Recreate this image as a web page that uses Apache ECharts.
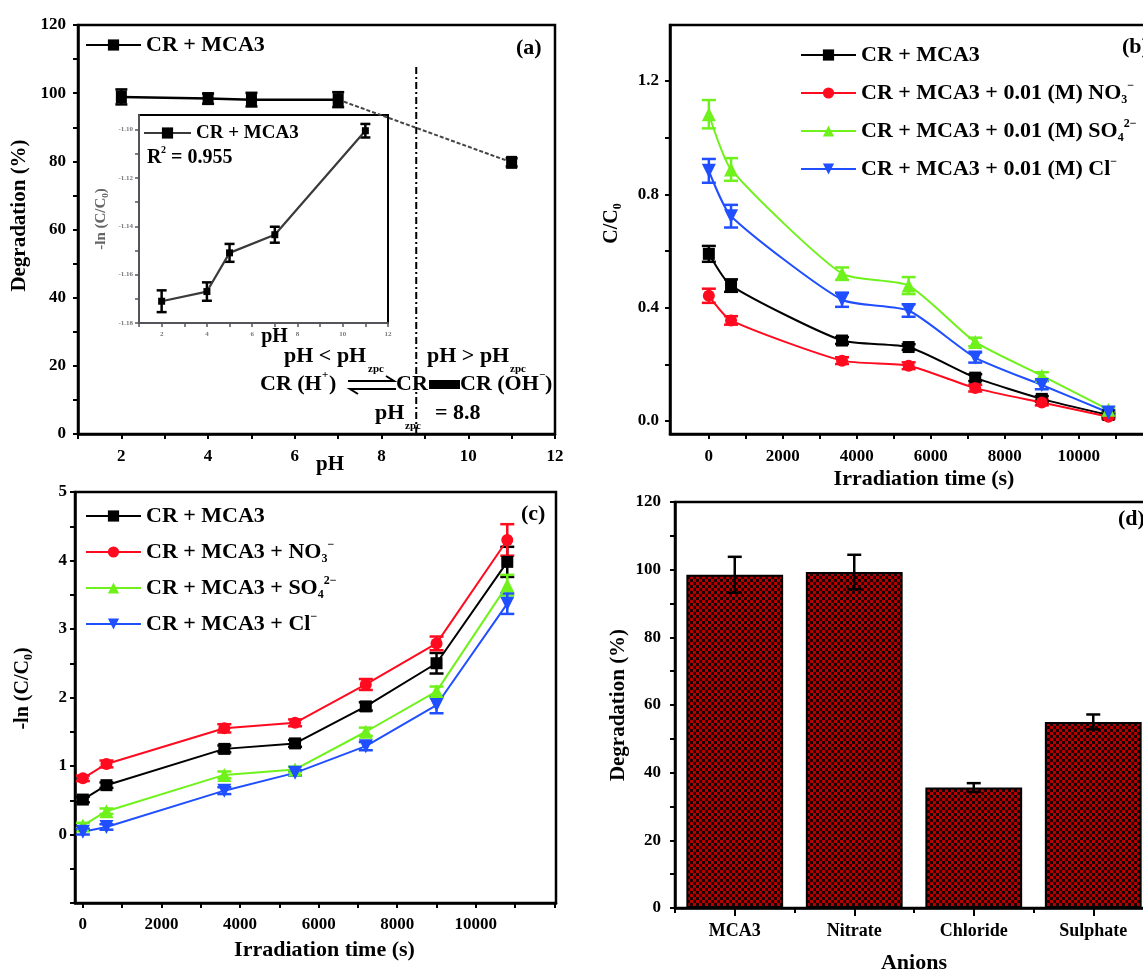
<!DOCTYPE html>
<html>
<head>
<meta charset="utf-8">
<script src="https://cdn.jsdelivr.net/npm/echarts@6/dist/echarts.min.js"></script>
<style>html,body{margin:0;padding:0;background:#fff;}#c{width:1143px;height:970px;}</style>
</head>
<body>
<div id="c"></div>
<script>
// ---------------- DATA ----------------
// (a) effect of pH
const pHValues = [2, 4, 5, 7, 11];
const degradationPH = [98.9, 98.4, 98.1, 98.1, 79.7];
const degradationPHErr = [2.2, 1.5, 2.0, 2.2, 1.2];
const pHzpc = 8.8;
const pHzpcLineTop = 108;
// (a) inset
const insetLn = [-1.171, -1.167, -1.151, -1.1435, -1.1005];
const insetLnErr = [0.0045, 0.0038, 0.0037, 0.0033, 0.0028];
// (b) C/C0 vs time
const times = [0, 600, 3600, 5400, 7200, 9000, 10800];
const ccBlack = [0.59, 0.478, 0.284, 0.261, 0.153, 0.078, 0.021];
const ccRed   = [0.442, 0.355, 0.213, 0.195, 0.116, 0.065, 0.015];
const ccGreen = [1.083, 0.888, 0.52, 0.478, 0.279, 0.16, 0.04];
const ccBlue  = [0.883, 0.723, 0.428, 0.39, 0.224, 0.127, 0.03];
const ccBlackErr = [0.028, 0.022, 0.012, 0.01, 0.012, 0.01, 0.008];
const ccRedErr   = [0.025, 0.015, 0.012, 0.012, 0.012, 0.01, 0.008];
const ccGreenErr = [0.05, 0.04, 0.022, 0.03, 0.015, 0.012, 0.008];
const ccBlueErr  = [0.042, 0.04, 0.025, 0.022, 0.018, 0.015, 0.008];
// (c) -ln(C/C0) vs time
const lnBlack = [0.51, 0.72, 1.25, 1.33, 1.87, 2.50, 3.98];
const lnRed   = [0.82, 1.03, 1.55, 1.63, 2.19, 2.79, 4.30];
const lnGreen = [0.13, 0.34, 0.87, 0.95, 1.50, 2.09, 3.64];
const lnBlue  = [0.04, 0.11, 0.64, 0.90, 1.29, 1.89, 3.37];
const lnBlackErr = [0.04, 0.04, 0.05, 0.05, 0.06, 0.15, 0.22];
const lnRedErr   = [0.04, 0.05, 0.06, 0.05, 0.08, 0.10, 0.23];
const lnGreenErr = [0.04, 0.04, 0.05, 0.04, 0.06, 0.07, 0.15];
const lnBlueErr  = [0.04, 0.04, 0.05, 0.04, 0.06, 0.12, 0.15];
// (d) anions
const anions = ['MCA3', 'Nitrate', 'Chloride', 'Sulphate'];
const anionDeg = [98.5, 99.3, 35.6, 55.0];
const anionErr = [5.3, 5.1, 1.3, 2.2];
// tick labels
const pHTickLabels = [2, 4, 6, 8, 10, 12];
const insetYTickLabels = [-1.18, -1.16, -1.14, -1.12, -1.10];
const insetYTicks = [-1.18, -1.17, -1.16, -1.15, -1.14, -1.13, -1.12, -1.11, -1.10];
const timeTickLabels = [0, 2000, 4000, 6000, 8000, 10000];
const timeTicksB = [0, 1000, 2000, 3000, 4000, 5000, 6000, 7000, 8000, 9000, 10000, 11000];
const timeTicksC = [0, 1000, 2000, 3000, 4000, 5000, 6000, 7000, 8000, 9000, 10000, 11000, 12000];
const ccTickLabels = [0, 0.4, 0.8, 1.2];
const ccTicks = [0, 0.2, 0.4, 0.6, 0.8, 1.0, 1.2, 1.4];
const lnTickLabels = [0, 1, 2, 3, 4, 5];
const lnTicks = [-1, -0.5, 0, 0.5, 1, 1.5, 2, 2.5, 3, 3.5, 4, 4.5, 5];

// ---------------- STYLE ----------------
const F = '"Liberation Serif","Times New Roman",serif';
const BLACK = '#000000', RED = '#ff0a1e', GREEN = '#6ff21c', BLUE = '#1f4fff';
const SMOOTH = 0.2;

const chart = echarts.init(document.getElementById('c'));

function axisBase(extra) {
  const base = {
    nameMoveOverlap: false,
    axisLine: { show: true, onZero: false, lineStyle: { color: '#000', width: 2.5 } },
    axisTick: { show: true, inside: false, length: 5, lineStyle: { color: '#000', width: 2 } },
    splitLine: { show: false },
    axisLabel: { color: '#000', fontFamily: F, fontWeight: 'bold', fontSize: 17, formatter: v => String(v) },
    nameTextStyle: { color: '#000', fontFamily: F, fontWeight: 'bold', fontSize: 21 }
  };
  for (const k in extra) {
    if (typeof extra[k] === 'object' && !Array.isArray(extra[k]) && base[k]) {
      base[k] = Object.assign({}, base[k], extra[k]);
    } else base[k] = extra[k];
  }
  return base;
}

function errSeries(xi, yi, data, color, cap, lw, z) {
  return {
    type: 'custom', xAxisIndex: xi, yAxisIndex: yi, z: z || 1, silent: true,
    data: data,
    renderItem: function (params, api) {
      const x = api.value(0), lo = api.value(1), hi = api.value(2);
      const p1 = api.coord([x, lo]), p2 = api.coord([x, hi]);
      const st = { stroke: color, lineWidth: lw || 2 };
      return { type: 'group', children: [
        { type: 'line', shape: { x1: p1[0], y1: p1[1], x2: p2[0], y2: p2[1] }, style: st },
        { type: 'line', shape: { x1: p1[0] - cap, y1: p1[1], x2: p1[0] + cap, y2: p1[1] }, style: st },
        { type: 'line', shape: { x1: p2[0] - cap, y1: p2[1], x2: p2[0] + cap, y2: p2[1] }, style: st }
      ] };
    }
  };
}
function errData(xs, vs, es) { return xs.map((x, i) => [x, vs[i] - es[i], vs[i] + es[i]]); }
function pts(xs, vs) { return xs.map((x, i) => [x, vs[i]]); }

// bar pattern (checkered dark red)
const pc = document.createElement('canvas');
pc.width = 6; pc.height = 6;
const pctx = pc.getContext('2d');
pctx.fillStyle = '#1e0000'; pctx.fillRect(0, 0, 6, 6);
pctx.fillStyle = '#b40000'; pctx.fillRect(0, 0, 3, 3); pctx.fillRect(3, 3, 3, 3);

const legendLabels = {
  a_main: 'CR + MCA3',
  a_inset: 'CR + MCA3',
  b_k: 'CR + MCA3',
  b_r: 'CR + MCA3 + 0.01 (M) NO{sub|3}{sup|−}',
  b_g: 'CR + MCA3 + 0.01 (M) SO{sub|4}{sup|2−}',
  b_b: 'CR + MCA3 + 0.01 (M) Cl{sup|−}',
  c_k: 'CR + MCA3',
  c_r: 'CR + MCA3 + NO{sub|3}{sup|−}',
  c_g: 'CR + MCA3 + SO{sub|4}{sup|2−}',
  c_b: 'CR + MCA3 + Cl{sup|−}'
};
function legendText(size) {
  return {
    color: '#000', fontFamily: F, fontWeight: 'bold', fontSize: size, lineHeight: 26,
    rich: {
      sub: { fontFamily: F, fontWeight: 'bold', fontSize: Math.round(size * 0.55), verticalAlign: 'bottom', lineHeight: 12 },
      sup: { fontFamily: F, fontWeight: 'bold', fontSize: Math.round(size * 0.55), verticalAlign: 'top', lineHeight: 12 }
    }
  };
}
function mkLegend(names, left, top, size, gap, w) {
  return {
    data: names, left: left, top: top, orient: 'vertical', itemGap: gap, padding: 0,
    itemWidth: w || 55, itemHeight: 14, selectedMode: false,
    formatter: n => legendLabels[n], textStyle: legendText(size)
  };
}

const tf = (s) => 'bold ' + s + 'px ' + F;
function txt(x, y, text, size, extra) {
  return Object.assign({ type: 'text', x: x, y: y, z: 50,
    style: { text: text, font: tf(size), fill: '#000', verticalAlign: 'middle' } }, extra || {});
}

const option = {
  backgroundColor: '#fff',
  animation: false,
  grid: [
    { left: 78, top: 25, width: 477, height: 409, show: true, borderColor: '#000', borderWidth: 2.5, outerBoundsMode: 'none', containLabel: false },
    { left: 139, top: 115, width: 249, height: 208, show: true, borderColor: '#000', borderWidth: 2, backgroundColor: 'transparent', outerBoundsMode: 'none', containLabel: false },
    { left: 670, top: 25, width: 478, height: 409, show: true, borderColor: '#000', borderWidth: 2.5, outerBoundsMode: 'none', containLabel: false },
    { left: 75, top: 492, width: 481, height: 411, show: true, borderColor: '#000', borderWidth: 2.5, outerBoundsMode: 'none', containLabel: false },
    { left: 675, top: 502, width: 478, height: 406, show: true, borderColor: '#000', borderWidth: 2.5, outerBoundsMode: 'none', containLabel: false }
  ],
  xAxis: [
    axisBase({ gridIndex: 0, type: 'value', min: 1, max: 12, interval: 1,
      axisLabel: { customValues: pHTickLabels, margin: 14 },
      name: 'pH', nameLocation: 'middle', nameGap: 20,
      nameTextStyle: { padding: [0, 0, 0, 27], fontSize: 21 } }),
    axisBase({ gridIndex: 1, type: 'value', min: 1, max: 12, interval: 1,
      axisLine: { lineStyle: { width: 2 } },
      axisTick: { length: 4, lineStyle: { width: 1.5 } },
      axisLabel: { customValues: pHTickLabels, fontSize: 7, color: '#777', margin: 8 },
      name: 'pH', nameLocation: 'middle', nameGap: 4,
      nameTextStyle: { fontSize: 20, padding: [0, 0, 0, 22] } }),
    axisBase({ gridIndex: 2, type: 'value', min: -1050, max: 11870,
      axisLabel: { customValues: timeTickLabels, margin: 14 },
      axisTick: { customValues: timeTicksB },
      name: 'Irradiation time (s)', nameLocation: 'middle', nameGap: 34,
      nameTextStyle: { fontSize: 22, padding: [0, 0, 0, 30] } }),
    axisBase({ gridIndex: 3, type: 'value', min: -200, max: 12040,
      axisLabel: { customValues: timeTickLabels, margin: 13 },
      axisTick: { customValues: timeTicksC },
      name: 'Irradiation time (s)', nameLocation: 'middle', nameGap: 36,
      nameTextStyle: { fontSize: 22, padding: [0, 0, 0, 18] } }),
    axisBase({ gridIndex: 4, type: 'category', data: anions, boundaryGap: true,
      axisTick: { alignWithLabel: true, length: 8 },
      axisLabel: { fontSize: 18, margin: 14 },
      name: 'Anions', nameLocation: 'middle', nameGap: 44,
      nameTextStyle: { fontSize: 22 } }),
    axisBase({ gridIndex: 4, type: 'category', data: anions, boundaryGap: true, position: 'bottom',
      axisLine: { show: false }, axisLabel: { show: false },
      axisTick: { alignWithLabel: false, length: 5 } })
  ],
  yAxis: [
    axisBase({ gridIndex: 0, type: 'value', min: 0, max: 120, interval: 20,
      minorTick: { show: true, splitNumber: 2, length: 5, lineStyle: { color: '#000', width: 2 } },
      axisLabel: { margin: 12 },
      name: 'Degradation (%)', nameLocation: 'middle', nameGap: 48, nameRotate: 90,
      nameTextStyle: { fontSize: 21, padding: [0, 0, 0, 28] } }),
    axisBase({ gridIndex: 1, type: 'value', min: -1.18, max: -1.094,
      axisLine: { lineStyle: { width: 2 } },
      axisTick: { customValues: insetYTicks, length: 4, lineStyle: { width: 1.5 } },
      axisLabel: { customValues: insetYTickLabels, fontSize: 7, color: '#777', margin: 6, formatter: v => v.toFixed(2) },
      name: '-ln (C/C\u2080)', nameLocation: 'middle', nameGap: 30, nameRotate: 90,
      nameTextStyle: { fontSize: 15, color: '#666', padding: [0, 0, 0, 0] } }),
    axisBase({ gridIndex: 2, type: 'value', min: -0.046, max: 1.398,
      axisLabel: { customValues: ccTickLabels, formatter: v => v.toFixed(1), margin: 11 },
      axisTick: { customValues: ccTicks },
      name: 'C/C\u2080', nameLocation: 'middle', nameGap: 48, nameRotate: 90,
      nameTextStyle: { fontSize: 20, padding: [0, 0, 0, 12] } }),
    axisBase({ gridIndex: 3, type: 'value', min: -1, max: 5,
      axisLabel: { customValues: lnTickLabels, margin: 8 },
      axisTick: { customValues: lnTicks },
      name: '-ln (C/C\u2080)', nameLocation: 'middle', nameGap: 42, nameRotate: 90,
      nameTextStyle: { fontSize: 20, padding: [0, 0, 0, 18] } }),
    axisBase({ gridIndex: 4, type: 'value', min: 0, max: 120, interval: 20,
      minorTick: { show: true, splitNumber: 2, length: 5, lineStyle: { color: '#000', width: 2 } },
      axisLabel: { margin: 14 },
      name: 'Degradation (%)', nameLocation: 'middle', nameGap: 46, nameRotate: 90,
      nameTextStyle: { fontSize: 21 } })
  ],
  legend: [
    mkLegend(['a_main'], 85, 32, 22, 10),
    mkLegend(['a_inset'], 143, 120, 19, 10, 47),
    mkLegend(['b_k', 'b_r', 'b_g', 'b_b'], 800, 42, 22, 12),
    mkLegend(['c_k', 'c_r', 'c_g', 'c_b'], 85, 503, 22, 10)
  ],
  series: [
    // ---- (a) main
    errSeries(0, 0, errData(pHValues, degradationPH, degradationPHErr), BLACK, 6, 2.5),
    { name: 'a_main', type: 'line', xAxisIndex: 0, yAxisIndex: 0, z: 3,
      data: pts(pHValues.slice(0, 4), degradationPH.slice(0, 4)),
      symbol: 'rect', symbolSize: [11, 13], itemStyle: { color: BLACK },
      lineStyle: { color: BLACK, width: 2.5 } },
    { name: 'a_tail', type: 'line', xAxisIndex: 0, yAxisIndex: 0, z: 3,
      data: pts(pHValues.slice(3), degradationPH.slice(3)).map((p, i) => i === 0 ? { value: p, symbol: 'none' } : { value: p }),
      symbol: 'rect', symbolSize: [11, 13], itemStyle: { color: BLACK },
      lineStyle: { color: '#444', width: 2, type: [4, 2] } },
    { name: 'a_zpc', type: 'line', xAxisIndex: 0, yAxisIndex: 0, z: 2, symbol: 'none',
      data: [[pHzpc, 0], [pHzpc, pHzpcLineTop]],
      lineStyle: { color: BLACK, width: 2, type: [7, 3, 2, 3] } },
    // ---- (a) inset
    errSeries(1, 1, errData(pHValues, insetLn, insetLnErr), BLACK, 5, 2.5),
    { name: 'a_inset', type: 'line', xAxisIndex: 1, yAxisIndex: 1, z: 3,
      data: pts(pHValues, insetLn), symbol: 'rect', symbolSize: 7,
      itemStyle: { color: BLACK }, lineStyle: { color: '#3a3a3a', width: 2.2 } },
    // ---- (b)
    errSeries(2, 2, errData(times, ccBlack, ccBlackErr), BLACK, 7, 2.5),
    errSeries(2, 2, errData(times, ccRed, ccRedErr), RED, 7, 2.5),
    errSeries(2, 2, errData(times, ccGreen, ccGreenErr), GREEN, 7, 2.5),
    errSeries(2, 2, errData(times, ccBlue, ccBlueErr), BLUE, 7, 2.5),
    { name: 'b_k', type: 'line', xAxisIndex: 2, yAxisIndex: 2, z: 3, smooth: SMOOTH,
      data: pts(times, ccBlack), symbol: 'rect', symbolSize: 12,
      itemStyle: { color: BLACK }, lineStyle: { color: BLACK, width: 2 } },
    { name: 'b_r', type: 'line', xAxisIndex: 2, yAxisIndex: 2, z: 3, smooth: SMOOTH,
      data: pts(times, ccRed), symbol: 'circle', symbolSize: 12,
      itemStyle: { color: RED }, lineStyle: { color: RED, width: 2 } },
    { name: 'b_g', type: 'line', xAxisIndex: 2, yAxisIndex: 2, z: 3, smooth: SMOOTH,
      data: pts(times, ccGreen), symbol: 'triangle', symbolSize: 14,
      itemStyle: { color: GREEN }, lineStyle: { color: GREEN, width: 2 } },
    { name: 'b_b', type: 'line', xAxisIndex: 2, yAxisIndex: 2, z: 3, smooth: SMOOTH,
      data: pts(times, ccBlue), symbol: 'triangle', symbolRotate: 180, symbolSize: 14,
      itemStyle: { color: BLUE }, lineStyle: { color: BLUE, width: 2 } },
    // ---- (c)
    errSeries(3, 3, errData(times, lnBlack, lnBlackErr), BLACK, 7, 2.5),
    errSeries(3, 3, errData(times, lnRed, lnRedErr), RED, 7, 2.5),
    errSeries(3, 3, errData(times, lnGreen, lnGreenErr), GREEN, 7, 2.5),
    errSeries(3, 3, errData(times, lnBlue, lnBlueErr), BLUE, 7, 2.5),
    { name: 'c_k', type: 'line', xAxisIndex: 3, yAxisIndex: 3, z: 3,
      data: pts(times, lnBlack), symbol: 'rect', symbolSize: 12,
      itemStyle: { color: BLACK }, lineStyle: { color: BLACK, width: 2 } },
    { name: 'c_r', type: 'line', xAxisIndex: 3, yAxisIndex: 3, z: 3,
      data: pts(times, lnRed), symbol: 'circle', symbolSize: 12,
      itemStyle: { color: RED }, lineStyle: { color: RED, width: 2 } },
    { name: 'c_g', type: 'line', xAxisIndex: 3, yAxisIndex: 3, z: 3,
      data: pts(times, lnGreen), symbol: 'triangle', symbolSize: 14,
      itemStyle: { color: GREEN }, lineStyle: { color: GREEN, width: 2 } },
    { name: 'c_b', type: 'line', xAxisIndex: 3, yAxisIndex: 3, z: 3,
      data: pts(times, lnBlue), symbol: 'triangle', symbolRotate: 180, symbolSize: 14,
      itemStyle: { color: BLUE }, lineStyle: { color: BLUE, width: 2 } },
    // ---- (d)
    { name: 'd_bar', type: 'bar', xAxisIndex: 4, yAxisIndex: 4, z: 2,
      data: anionDeg, barWidth: '81%',
      itemStyle: { color: { image: pc, repeat: 'repeat' }, borderColor: '#000', borderWidth: 2 } },
    errSeries(4, 4, anionDeg.map((v, i) => [i, v - anionErr[i], v + anionErr[i]]), BLACK, 7, 2.5, 5)
  ],
  graphic: [
    txt(516, 48, '(a)', 22),
    txt(1122, 47, '(b)', 22),
    txt(521, 514, '(c)', 22),
    txt(1118, 519, '(d)', 22),
    // inset R^2
    txt(147, 158, 'R', 20), txt(161, 150, '2', 10), txt(171, 158, '= 0.955', 20),
    // pH zones
    txt(284, 356, 'pH < pH', 22), txt(368, 369, 'zpc', 11),
    txt(427, 356, 'pH > pH', 22), txt(510, 369, 'zpc', 11),
    txt(260, 384, 'CR (H', 22), txt(322, 375, '+', 11), txt(329, 384, ')', 22),
    { type: 'polyline', z: 50, shape: { points: [[348, 381], [394, 381], [386, 376]] }, style: { stroke: '#000', lineWidth: 2, fill: null } },
    { type: 'polyline', z: 50, shape: { points: [[396, 389], [350, 389], [358, 394]] }, style: { stroke: '#000', lineWidth: 2, fill: null } },
    txt(396, 384, 'CR', 22),
    { type: 'rect', z: 50, shape: { x: 429, y: 380, width: 31, height: 9 }, style: { fill: '#000' } },
    txt(460, 384, 'CR (OH', 22), txt(539, 375, '\u2212', 11), txt(545, 384, ')', 22),
    txt(375, 413, 'pH', 22), txt(405, 426, 'zpc', 11), txt(435, 413, '= 8.8', 22)
  ]
};
chart.setOption(option);
</script>
</body>
</html>
